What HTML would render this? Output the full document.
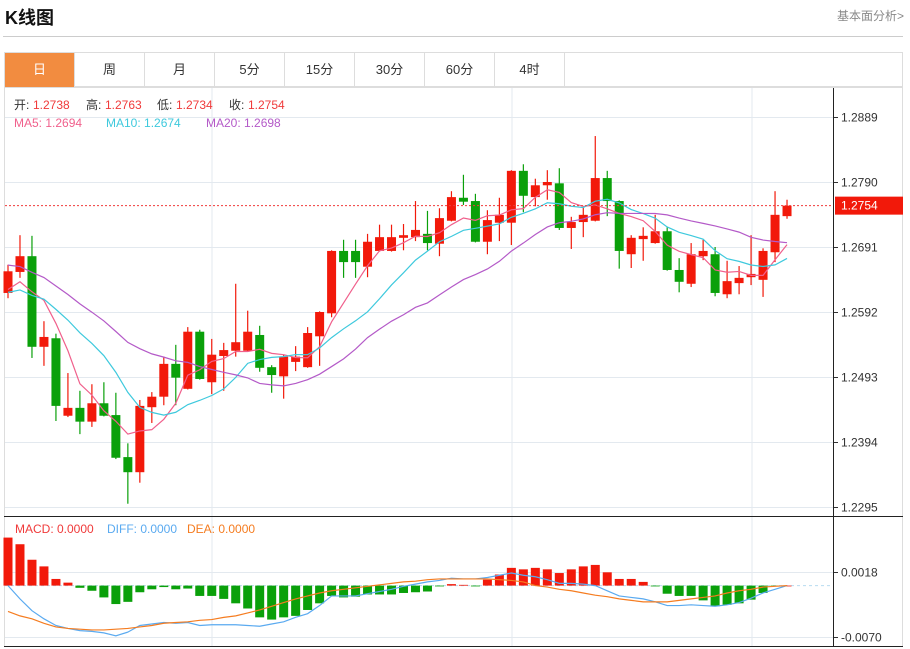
<!DOCTYPE html>
<html><head><meta charset="utf-8">
<style>
body{margin:0;width:910px;height:649px;background:#fff;font-family:"Liberation Sans","Noto Sans CJK SC",sans-serif;overflow:hidden;position:relative}
.title{position:absolute;left:5px;top:4px;font-size:18px;font-weight:bold;color:#111}
.more{position:absolute;right:6px;top:7px;font-size:12px;color:#888}
.hr{position:absolute;left:3px;top:36px;width:900px;height:1px;background:#ccc}
.tabs{position:absolute;left:4px;top:52px;width:899px;height:35px;border:1px solid #ddd;border-bottom:1px solid #ddd;box-sizing:border-box;display:flex}
.tab{width:70px;height:34px;line-height:34px;text-align:center;font-size:13px;color:#333;border-right:1px solid #ddd;box-sizing:border-box}
.tab.active{background:#f28c40;color:#fff}
svg{position:absolute;left:0;top:0}
</style></head><body>
<div class="title">K线图</div>
<div class="more">基本面分析&gt;</div>
<div class="hr"></div>
<div class="tabs">
<div class="tab active">日</div>
<div class="tab">周</div>
<div class="tab">月</div>
<div class="tab">5分</div>
<div class="tab">15分</div>
<div class="tab">30分</div>
<div class="tab">60分</div>
<div class="tab">4时</div>
</div>
<svg id="chart" width="910" height="649"></svg>
<script>
const opens=[1.2621,1.2653,1.2677,1.2539,1.2552,1.2434,1.2446,1.2425,1.2453,1.2435,1.2371,1.2348,1.2447,1.2463,1.2513,1.2475,1.2562,1.2485,1.2525,1.2533,1.2533,1.2557,1.2508,1.2494,1.2516,1.2508,1.2555,1.2590,1.2685,1.2685,1.2661,1.2685,1.2685,1.2705,1.2706,1.2711,1.2696,1.2731,1.2766,1.2761,1.2699,1.2728,1.2728,1.2807,1.2767,1.2785,1.2788,1.2720,1.2729,1.2731,1.2796,1.2761,1.2680,1.2703,1.2697,1.2715,1.2656,1.2635,1.2677,1.2680,1.2619,1.2636,1.2645,1.2641,1.2683,1.2738];
const closes=[1.2654,1.2677,1.2539,1.2554,1.2449,1.2446,1.2425,1.2453,1.2434,1.2370,1.2348,1.2449,1.2463,1.2513,1.2492,1.2562,1.2490,1.2527,1.2534,1.2546,1.2562,1.2507,1.2496,1.2524,1.2524,1.2560,1.2592,1.2685,1.2668,1.2668,1.2699,1.2706,1.2706,1.2709,1.2717,1.2697,1.2735,1.2767,1.2760,1.2699,1.2732,1.2740,1.2807,1.2769,1.2785,1.2790,1.2720,1.2729,1.2740,1.2796,1.2761,1.2685,1.2705,1.2708,1.2715,1.2656,1.2638,1.2680,1.2685,1.2621,1.2639,1.2644,1.2650,1.2685,1.2740,1.2754];
const highs=[1.2664,1.2709,1.2708,1.2578,1.2559,1.2499,1.2472,1.2482,1.2485,1.2469,1.2392,1.2458,1.2470,1.2524,1.2542,1.2569,1.2565,1.2551,1.2545,1.2635,1.2594,1.2571,1.2511,1.2527,1.2540,1.2569,1.2593,1.2686,1.2702,1.2702,1.2711,1.2725,1.2725,1.2726,1.2761,1.2746,1.2750,1.2776,1.2801,1.2772,1.2747,1.2766,1.2808,1.2817,1.2795,1.2808,1.2811,1.2737,1.2752,1.2860,1.2807,1.2762,1.2709,1.2721,1.2740,1.2721,1.2674,1.2697,1.2702,1.2691,1.2670,1.2662,1.2709,1.2689,1.2776,1.2763];
const lows=[1.2613,1.2644,1.2522,1.2510,1.2426,1.2432,1.2406,1.2417,1.2433,1.2368,1.2300,1.2332,1.2423,1.2450,1.2450,1.2474,1.2489,1.2467,1.2472,1.2524,1.2532,1.2501,1.2469,1.2460,1.2502,1.2507,1.2510,1.2584,1.2644,1.2644,1.2645,1.2684,1.2684,1.2686,1.2700,1.2686,1.2677,1.2730,1.2755,1.2698,1.2680,1.2700,1.2694,1.2744,1.2753,1.2763,1.2717,1.2688,1.2706,1.2730,1.2738,1.2658,1.2659,1.2670,1.2696,1.2655,1.2622,1.2630,1.2671,1.2616,1.2613,1.2619,1.2633,1.2615,1.2668,1.2734];
const priorCloses=[1.2720,1.2715,1.2712,1.2708,1.2705,1.2710,1.2706,1.2700,1.2692,1.2680,1.2640,1.2622,1.2612,1.2604,1.2610,1.2618,1.2615,1.2620,1.2624];
const macdBars=[0.0065,0.0056,0.0035,0.0026,0.0009,0.0004,-0.0003,-0.0007,-0.0016,-0.0025,-0.0022,-0.0009,-0.0005,-0.0002,-0.0005,-0.0004,-0.0014,-0.0014,-0.0018,-0.0024,-0.0031,-0.0043,-0.0046,-0.0043,-0.0041,-0.0033,-0.0024,-0.0014,-0.0016,-0.0015,-0.0012,-0.0012,-0.0012,-0.0010,-0.0009,-0.0008,-0.0001,0.0002,0.0001,-0.0001,0.0008,0.0015,0.0024,0.0022,0.0024,0.0022,0.0017,0.0022,0.0026,0.0028,0.0018,0.0009,0.0009,0.0005,-0.0001,-0.0011,-0.0014,-0.0014,-0.0020,-0.0028,-0.0026,-0.0024,-0.0019,-0.0010,-0.0001,0];
const diffVals=[0,-0.0018,-0.0034,-0.0045,-0.0054,-0.0058,-0.0061,-0.0062,-0.0064,-0.0068,-0.0063,-0.0054,-0.0052,-0.0050,-0.0051,-0.0050,-0.0054,-0.0053,-0.0053,-0.0053,-0.0054,-0.0055,-0.0052,-0.0049,-0.0043,-0.0038,-0.0027,-0.0014,-0.0014,-0.0014,-0.0011,-0.0008,-0.0005,-0.0001,0.0002,0.0005,0.0007,0.0010,0.0009,0.0009,0.0011,0.0014,0.0017,0.0014,0.0012,0.0008,0.0003,0.0003,0.0002,0,-0.0007,-0.0014,-0.0016,-0.0018,-0.0022,-0.0027,-0.0027,-0.0026,-0.0027,-0.0028,-0.0026,-0.0023,-0.0017,-0.0010,-0.0005,0];
const deaVals=[-0.0035,-0.0041,-0.0045,-0.0051,-0.0056,-0.0058,-0.0059,-0.0060,-0.0060,-0.0059,-0.0058,-0.0056,-0.0054,-0.0051,-0.0050,-0.0049,-0.0047,-0.0046,-0.0043,-0.0041,-0.0037,-0.0033,-0.0028,-0.0023,-0.0018,-0.0014,-0.0010,-0.0007,-0.0005,-0.0003,-0.0001,0.0001,0.0003,0.0005,0.0006,0.0008,0.0009,0.0009,0.0009,0.0009,0.0009,0.0008,0.0007,0.0005,0,-0.0002,-0.0005,-0.0007,-0.0010,-0.0013,-0.0015,-0.0018,-0.0020,-0.0022,-0.0022,-0.0022,-0.0020,-0.0018,-0.0016,-0.0014,-0.0010,-0.0007,-0.0005,-0.0002,-0.0001,0];
const priceTicks=["1.2889","1.2790","1.2691","1.2592","1.2493","1.2394","1.2295"];
const macdTicks=["0.0018","-0.0070"];

const NS="http://www.w3.org/2000/svg";
const svg=document.getElementById('chart');
const RED="#f2190a",GREEN="#0aa00a";
function mk(tag,attrs,parent){const e=document.createElementNS(NS,tag);for(const k in attrs)e.setAttribute(k,attrs[k]);(parent||svg).appendChild(e);return e;}
const xOf=i=>8+i*11.985;
const yP=p=>117+(1.2889-p)/0.0099*65;
const yM=v=>572.3+(0.0018-v)/0.0088*65;

// frame
let f=mk('rect',{x:4.5,y:87.5,width:898,height:559,fill:'none',stroke:'#ddd'});


// grid
[212,512,752].forEach(x=>{let g=mk('line',{x1:x,y1:88,x2:x,y2:646,stroke:'#e3e9ef'});

});
priceTicks.forEach(t=>{const y=Math.round(yP(parseFloat(t)))+0.5;
let g=mk('line',{x1:5,y1:y,x2:833,y2:y,stroke:'#e3e9ef'});


let tk=mk('line',{x1:833,y1:y,x2:838,y2:y,stroke:'#333'});


let tx=mk('text',{x:841,y:y+4,'font-size':12,fill:'#333'});tx.textContent=t;

});
macdTicks.forEach(t=>{const y=Math.round(yM(parseFloat(t)))+0.5;
let g=mk('line',{x1:5,y1:y,x2:833,y2:y,stroke:'#e3e9ef'});


let tk=mk('line',{x1:833,y1:y,x2:838,y2:y,stroke:'#333'});


let tx=mk('text',{x:841,y:y+4,'font-size':12,fill:'#333'});tx.textContent=t;

});
// axes lines
let ax=mk('line',{x1:833.5,y1:88,x2:833.5,y2:647,stroke:'#222'});


let sep=mk('line',{x1:4,y1:516.5,x2:903,y2:516.5,stroke:'#222'});


let bot=mk('line',{x1:4,y1:646.5,x2:903,y2:646.5,stroke:'#222'});



// candles
for(let i=0;i<opens.length;i++){
 const up=closes[i]>=opens[i],c=up?RED:GREEN,x=xOf(i);
 const g=mk('g',{});
 
 
 mk('line',{x1:x,y1:yP(highs[i]),x2:x,y2:yP(lows[i]),stroke:c,'stroke-width':1.2},g);
 const t=yP(Math.max(opens[i],closes[i])),b=yP(Math.min(opens[i],closes[i]));
 mk('rect',{x:x-4.5,y:t,width:9,height:Math.max(1.5,b-t),fill:c},g);
}
// MA
const all=priorCloses.concat(closes),P=priorCloses.length;
function ma(n){return closes.map((_,i)=>{let s=0;for(let k=0;k<n;k++)s+=all[P+i-k];return s/n;});}
[[5,'#f0608c','ma5-line'],[10,'#3ec9dd','ma10-line'],[20,'#b45ac8','ma20-line']].forEach(([n,col,name])=>{
 const v=ma(n);const l=mk('polyline',{points:v.map((p,i)=>xOf(i)+','+yP(p)).join(' '),fill:'none',stroke:col,'stroke-width':1.2});
 
 
});
// current price line
const lc=closes[closes.length-1],ly=yP(lc);
let cl=mk('line',{x1:5,y1:ly,x2:833,y2:ly,stroke:'#f03a3a','stroke-dasharray':'2,2'});


let cb=mk('rect',{x:835,y:ly-9,width:68,height:18,fill:'#f2190a'});


let ct=mk('text',{x:841,y:ly+4,'font-size':12,fill:'#fff'});ct.textContent=lc.toFixed(4);



// MACD zero line
const z=yM(0);
let zl=mk('line',{x1:5,y1:z,x2:833,y2:z,stroke:'#b8dcf0','stroke-dasharray':'3,3'});


macdBars.forEach((v,i)=>{const y=yM(v);const r=mk('rect',{x:xOf(i)-4.5,y:Math.min(y,z),width:9,height:Math.max(0.8,Math.abs(y-z)),fill:v>=0?RED:GREEN});
 
 });
[[diffVals,'#5aaaf0','diff-line'],[deaVals,'#f57c20','dea-line']].forEach(([arr,col,name])=>{
 const l=mk('polyline',{points:arr.map((v,i)=>xOf(i)+','+yM(v)).join(' '),fill:'none',stroke:col,'stroke-width':1.2});
 
 
});

// legends
function txt(x,y,s,col,name){const t=mk('text',{x:x,y:y,'font-size':12,fill:col});t.textContent=s;
 
 return t;}
txt(14,109,'开:','#333','open-label');txt(33,109,'1.2738','#f03a3a','open-value');
txt(86,109,'高:','#333','high-label');txt(105,109,'1.2763','#f03a3a','high-value');
txt(157,109,'低:','#333','low-label');txt(176,109,'1.2734','#f03a3a','low-value');
txt(229,109,'收:','#333','close-label');txt(248,109,'1.2754','#f03a3a','close-value');
txt(14,127,'MA5: 1.2694','#f0608c','ma5-legend');
txt(106,127,'MA10: 1.2674','#3ec9dd','ma10-legend');
txt(206,127,'MA20: 1.2698','#b45ac8','ma20-legend');
txt(15,533,'MACD: 0.0000','#f03a3a','macd-legend');
txt(107,533,'DIFF: 0.0000','#5aaaf0','diff-legend');
txt(187,533,'DEA: 0.0000','#f57c20','dea-legend');
</script>
</body></html>
